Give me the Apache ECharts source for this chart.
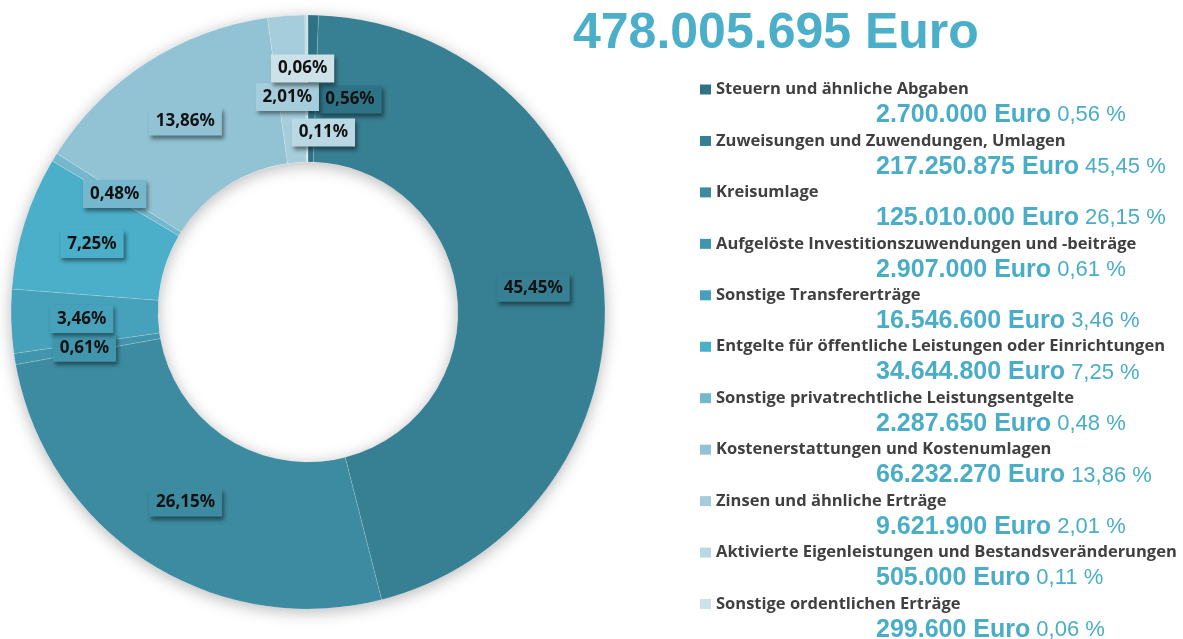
<!DOCTYPE html>
<html>
<head>
<meta charset="utf-8">
<script src="https://cdn.jsdelivr.net/npm/echarts@6/dist/echarts.min.js"></script>
<style>
  html, body { margin: 0; padding: 0; background: #ffffff; }
  #chart { width: 1183px; height: 639px; }
</style>
</head>
<body>
<div id="chart"></div>
<script>
// Ertragsarten und ihre Beträge (Euro)
const categories = [
  'Steuern und ähnliche Abgaben',
  'Zuweisungen und Zuwendungen, Umlagen',
  'Kreisumlage',
  'Aufgelöste Investitionszuwendungen und -beiträge',
  'Sonstige Transfererträge',
  'Entgelte für öffentliche Leistungen oder Einrichtungen',
  'Sonstige privatrechtliche Leistungsentgelte',
  'Kostenerstattungen und Kostenumlagen',
  'Zinsen und ähnliche Erträge',
  'Aktivierte Eigenleistungen und Bestandsveränderungen',
  'Sonstige ordentlichen Erträge'
];
const amounts = [
  2700000, 217250875, 125010000, 2907000, 16546600, 34644800,
  2287650, 66232270, 9621900, 505000, 299600
];
const currency = 'Euro';

// Farbverlauf von dunklem Petrol zu hellem Blaugrau
const sliceColors = [
  '#2E7385', '#377F92', '#3D8BA1', '#4196AE', '#46A1BA', '#4BAFC9',
  '#75B8CD', '#92C3D5', '#A6CDDC', '#BAD8E4', '#CDE1E9'
];
// Verschiebung der Prozent-Etiketten im engen Bereich oben (dx, dy in px)
const labelShift = [[38, 14], [0, 0], [0, 0], [0, 0], [0, 0], [0, 0], [0, 0], [0, 0], [-4, 11], [17, 47], [-5, -17]];

const total = amounts.reduce((a, b) => a + b, 0);
const fmtInt = n => String(n).replace(/\B(?=(\d{3})+(?!\d))/g, '.');
const fmtPct = v => (v / total * 100).toFixed(2).replace('.', ',');

const rich = {
  gap: { width: 5 },
  name: {
    fontFamily: 'Open Sans', fontWeight: 'bold', fontSize: 16.5,
    color: '#404040', lineHeight: 25
  },
  ind: { width: 176, lineHeight: 26.7 },
  val: {
    fontFamily: 'Liberation Sans', fontWeight: 'bold', fontSize: 25,
    color: '#4AADC7', lineHeight: 26.7
  },
  pct: {
    fontFamily: 'Liberation Sans', fontWeight: 'normal', fontSize: 22,
    color: '#4AADC7', lineHeight: 26.7
  }
};
sliceColors.forEach((c, i) => {
  rich['mk' + i] = { width: 11, height: 10, backgroundColor: c, lineHeight: 25 };
});

const pieData = categories.map((name, i) => ({
  name: name,
  value: amounts[i],
  itemStyle: { color: sliceColors[i] },
  label: { backgroundColor: sliceColors[i] }
}));

const chart = echarts.init(document.getElementById('chart'), null, { renderer: 'canvas' });
chart.setOption({
  animation: false,
  backgroundColor: '#ffffff',
  title: {
    text: fmtInt(total) + ' ' + currency,
    left: 573, top: 9, padding: 0,
    textStyle: {
      fontFamily: 'Liberation Sans', fontWeight: 'bold', fontSize: 50,
      lineHeight: 50, color: '#4BAFC9'
    }
  },
  legend: {
    orient: 'vertical',
    left: 695, top: 81,
    width: 488, height: 900,
    padding: 0,
    itemGap: 4.6,
    itemWidth: 0,
    itemHeight: 10,
    icon: 'none',
    selectedMode: false,
    data: categories,
    formatter: function (name) {
      const i = categories.indexOf(name);
      return '{mk' + i + '|}{gap|}{name|' + name + '}\n' +
        '{ind|}{val|' + fmtInt(amounts[i]) + ' ' + currency + '}{pct| ' + fmtPct(amounts[i]) + ' %}';
    },
    textStyle: { rich: rich }
  },
  series: [
    {
      // weicher Schatten unter dem Ring
      type: 'pie',
      silent: true,
      center: [308, 312],
      radius: [150, 297],
      startAngle: 90,
      z: 1,
      label: { show: false },
      labelLine: { show: false },
      emphasis: { disabled: true },
      itemStyle: {
        color: '#ffffff',
        shadowBlur: 16,
        shadowColor: 'rgba(0,0,0,0.28)',
        shadowOffsetY: 3
      },
      data: [{ value: 1, name: '' }]
    },
    {
      type: 'pie',
      center: [308, 312],
      radius: [150, 297],
      startAngle: 90,
      clockwise: true,
      z: 2,
      emphasis: { disabled: true },
      itemStyle: { borderColor: 'rgba(255,255,255,0.14)', borderWidth: 1 },
      label: {
        show: true,
        position: 'inside',
        formatter: p => fmtPct(p.value) + '%',
        fontFamily: 'Noto Sans', fontWeight: 'bold', fontSize: 17,
        color: '#111111',
        padding: [6, 7, 5, 7],
        shadowColor: 'rgba(0,0,0,0.45)',
        shadowBlur: 4,
        shadowOffsetX: 2,
        shadowOffsetY: 3
      },
      labelLayout: function (params) {
        const s = labelShift[params.dataIndex] || [0, 0];
        return { dx: s[0], dy: s[1] };
      },
      data: pieData
    }
  ]
});
</script>
</body>
</html>
